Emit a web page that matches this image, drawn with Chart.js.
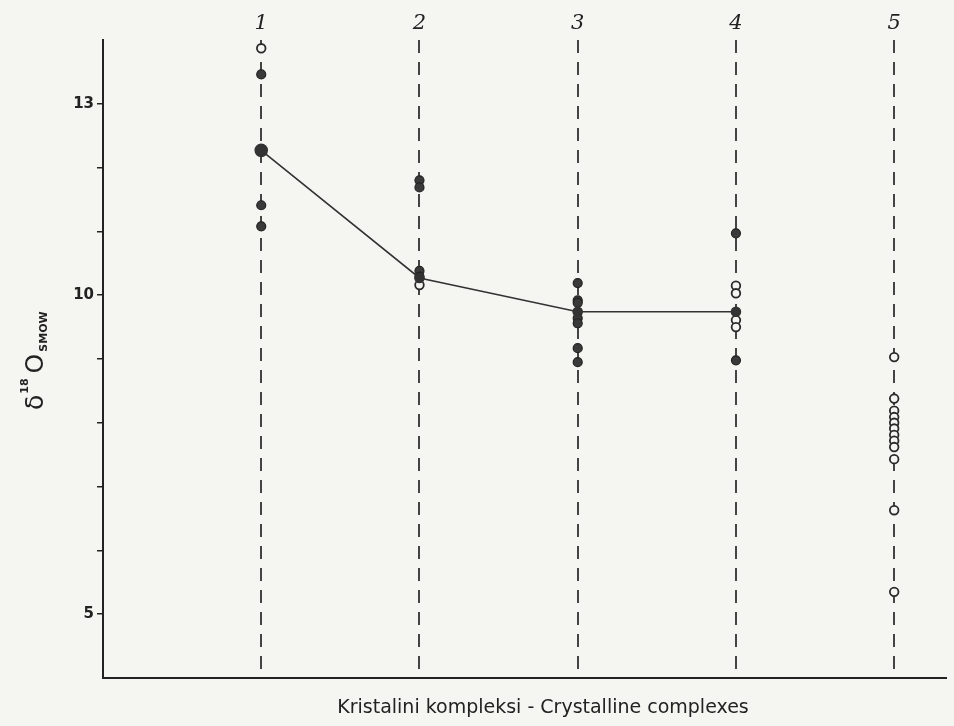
<!DOCTYPE html>
<html>
<head>
<meta charset="utf-8">
<script src="https://cdn.jsdelivr.net/npm/chart.js@4/dist/chart.umd.min.js"></script>
<style>
  body { margin: 0; background: #f5f5f2; }
  #wrap { width: 954px; height: 726px; }
</style>
</head>
<body>
<div id="wrap"><canvas id="chart" width="954" height="726"></canvas></div>
<script>
// complex numbers along the x axis
const columns = [1, 2, 3, 4, 5];
const columnLabels = ['1', '2', '3', '4', '5'];

// delta 18O values, one list per complex
const filledValues = [
    [13.46, 11.41, 11.08],
    [11.80, 11.69, 10.38, 10.29],
    [10.19, 9.92, 9.88, 9.64, 9.56, 9.17, 8.95],
    [10.97, 8.98],
    []
];
const openValues = [
    [13.87],
    [10.16],
    [],
    [10.15, 10.03, 9.61, 9.50],
    [9.03, 8.38, 8.19, 8.09, 8.00, 7.91, 7.81, 7.72, 7.62, 7.43, 6.63, 5.35]
];
// mean line through complexes 1-4
const meanColumns = [1, 2, 3, 4];
const meanValues = [12.27, 10.27, 9.74, 9.74];

const yLabeled = [5, 10, 13];
const xTitle = 'Kristalini kompleksi - Crystalline complexes';

const toPoints = (lists) => {
    const pts = [];
    lists.forEach((vals, i) => vals.forEach(v => pts.push({ x: columns[i], y: v })));
    return pts;
};

const ink = '#333';
const paper = '#f5f5f2';

const decor = {
    id: 'decor',
    beforeDraw(chart) {
        const ctx = chart.ctx;
        ctx.save();
        ctx.fillStyle = paper;
        ctx.fillRect(0, 0, chart.width, chart.height);
        ctx.restore();
    },
    afterDraw(chart) {
        const ctx = chart.ctx;
        const xs = chart.scales.x;
        ctx.save();
        ctx.fillStyle = '#222';

        // column numbers above the dashed lines
        ctx.font = 'italic 21px "DejaVu Serif"';
        ctx.textAlign = 'center';
        ctx.textBaseline = 'middle';
        columns.forEach((c, i) => ctx.fillText(columnLabels[i], xs.getPixelForValue(c), 24));

        // x title
        ctx.font = '19px "DejaVu Sans"';
        ctx.fillText(xTitle, 543, 708);

        // y title: delta 18 O SMOW, rotated
        ctx.translate(43, 410);
        ctx.rotate(-Math.PI / 2);
        ctx.textAlign = 'left';
        ctx.textBaseline = 'alphabetic';
        let x = 0;
        ctx.font = '25px "DejaVu Sans"';
        ctx.fillText('δ', x, 0);
        x += ctx.measureText('δ').width + 1;
        ctx.font = 'bold 11px "DejaVu Sans"';
        ctx.fillText('18', x, -15);
        x += ctx.measureText('18').width + 5;
        ctx.font = '25px "DejaVu Sans"';
        ctx.fillText('O', x, 0);
        x += ctx.measureText('O').width + 2;
        ctx.font = 'bold 11px "DejaVu Sans"';
        ctx.fillText('SMOW', x, 4);
        ctx.restore();
    }
};

new Chart(document.getElementById('chart').getContext('2d'), {
    type: 'scatter',
    data: {
        datasets: [
            {
                type: 'line',
                data: meanColumns.map((c, i) => ({ x: c, y: meanValues[i] })),
                borderColor: ink,
                borderWidth: 1.6,
                pointRadius: [6, 4.5, 4.5, 4.5],
                pointBackgroundColor: ink,
                pointBorderColor: ink,
                tension: 0,
                fill: false
            },
            {
                data: toPoints(filledValues),
                pointRadius: 4.5,
                pointBackgroundColor: '#3a3a3a',
                pointBorderColor: '#222',
                pointBorderWidth: 1.2
            },
            {
                data: toPoints(openValues),
                pointRadius: 4.3,
                pointBackgroundColor: paper,
                pointBorderColor: '#2a2a2a',
                pointBorderWidth: 1.8
            }
        ]
    },
    options: {
        responsive: false,
        animation: false,
        layout: { padding: { top: 40, right: 0, bottom: 0, left: 0 } },
        plugins: { legend: { display: false }, tooltip: { enabled: false } },
        scales: {
            x: {
                type: 'linear',
                min: 0,
                max: 5.33,
                afterBuildTicks: (scale) => { scale.ticks = columns.map(v => ({ value: v })); },
                afterFit: (scale) => { scale.height = 48; },
                ticks: { display: false },
                grid: { color: '#444', lineWidth: 2, drawTicks: false },
                border: { display: true, color: '#222', width: 2, dash: [13, 9] }
            },
            y: {
                min: 4,
                max: 14,
                afterFit: (scale) => { scale.width = 103; },
                ticks: {
                    stepSize: 1,
                    padding: 3,
                    color: '#222',
                    font: { family: 'DejaVu Sans', size: 15, weight: 'bold' },
                    callback: (v) => yLabeled.includes(v) ? String(v) : ''
                },
                grid: {
                    drawOnChartArea: false,
                    drawTicks: true,
                    tickLength: 6,
                    lineWidth: 1.5,
                    color: (c) => (c.tick && (c.tick.value === 4 || c.tick.value === 14)) ? 'rgba(0,0,0,0)' : '#222'
                },
                border: { display: true, color: '#222', width: 2 }
            }
        }
    },
    plugins: [decor]
});
</script>
</body>
</html>
